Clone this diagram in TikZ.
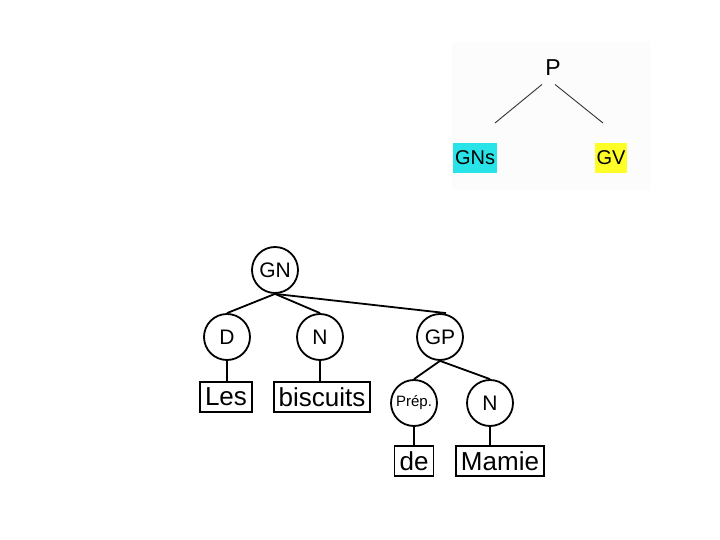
\documentclass[tikz,border=0pt]{standalone}
\usepackage{fontspec}
\setmainfont{Liberation Sans}
\usetikzlibrary{positioning}
\definecolor{gnscyan}{RGB}{40,228,232}
\definecolor{gvyellow}{RGB}{255,255,40}

\begin{document}
\begin{tikzpicture}[
    x=1pt, y=-1pt,
    cat/.style={draw, circle, line width=1.8pt, minimum size=46pt, inner sep=0pt,
                font=\fontsize{21}{21}\selectfont},
    word/.style={draw, rectangle, line width=1.8pt, minimum height=30pt, inner xsep=5pt,
                 inner ysep=0pt, font=\fontsize{26}{26}\selectfont},
    branch/.style={line width=1.8pt},
    label/.style={inner sep=2pt, minimum height=30pt, font=\fontsize{20}{20}\selectfont}
  ]
  \useasboundingbox (0,0) rectangle (720,540);

  % Small schema top right
  \fill[black!1] (452,42) rectangle (650,190);
  \node[font=\fontsize{23}{23}\selectfont] (p) at (553,68) {P};
  \node[label, fill=gnscyan] (gns) at (475,158) {GNs};
  \node[label, fill=gvyellow] (gv) at (611,158) {GV};
  \coordinate (gnsend) at (495,123);
  \coordinate (gvend) at (603,123);
  \draw[black!80, line width=0.9pt] ([xshift=-11pt, yshift=-5pt]p.south) -- (gnsend);
  \draw[black!80, line width=0.9pt] ([xshift=2pt, yshift=-5pt]p.south) -- (gvend);

  % Tree of the noun group
  \node[cat] (gn) at (275,270) {GN};
  \node[cat] (d) at (227,337) {D};
  \node[cat] (n) at (320,337) {N};
  \node[cat] (gp) at (440,337) {GP};
  \node[cat, font=\fontsize{15}{15}\selectfont] (prep) at (414,403) {Prép.};
  \node[cat] (n2) at (490,403) {N};

  \node[word] (les) at (226,397) {Les};
  \node[word] (biscuits) at (322,397) {biscuits};
  \node[word] (de) at (414,461) {de};
  \node[word] (mamie) at (500,461) {Mamie};

  \draw[branch] (gn.south) -- (d.north);
  \draw[branch] (gn.south) -- (n.north);
  \draw[branch] (gn.south) -- ([xshift=6pt]gp.north);
  \draw[branch] (gp.south) -- (prep.north);
  \draw[branch] (gp.south) -- (n2.north);
  \draw[branch] (d.south) -- (d.south |- les.north);
  \draw[branch] (n.south) -- (n.south |- biscuits.north);
  \draw[branch] (prep.south) -- (prep.south |- de.north);
  \draw[branch] (n2.south) -- (n2.south |- mamie.north);
\end{tikzpicture}
\end{document}
